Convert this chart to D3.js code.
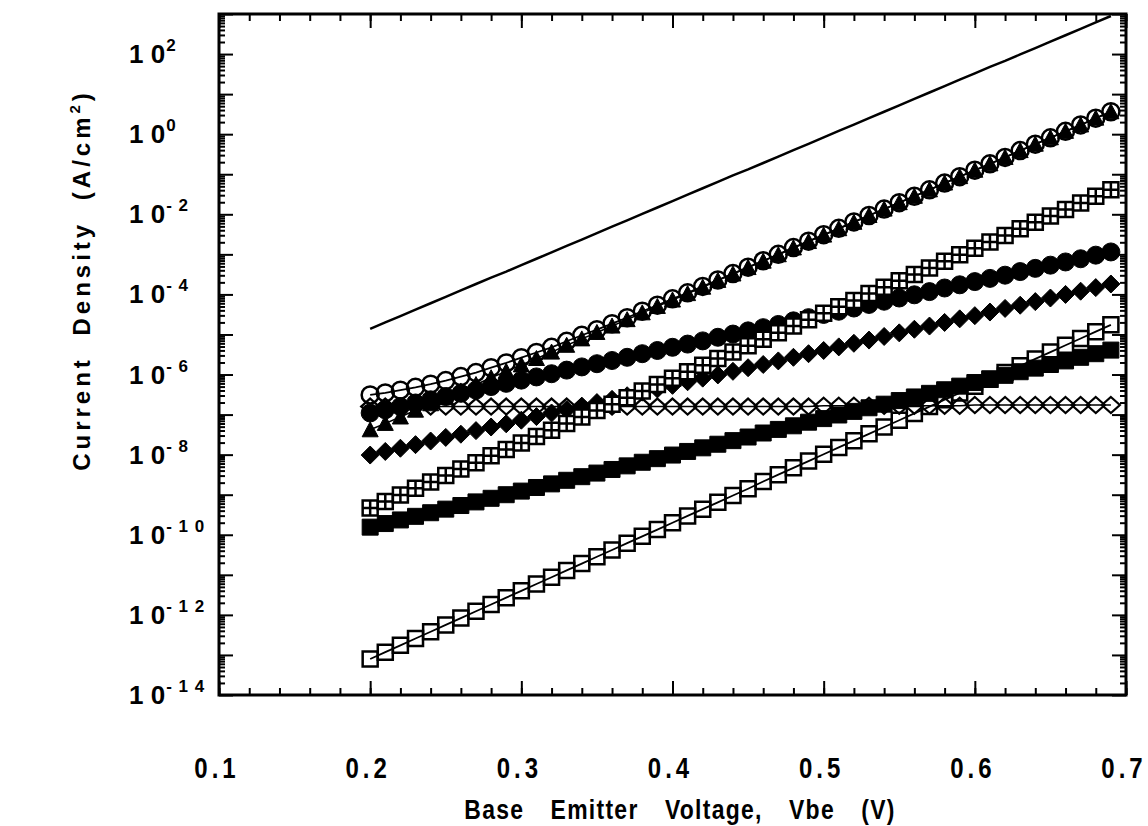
<!DOCTYPE html>
<html>
<head>
<meta charset="utf-8">
<script src="https://cdn.jsdelivr.net/npm/d3@7"></script>
<style>
  body { margin: 0; background: #fff; }
  svg text { fill: #000; }
</style>
</head>
<body>
<div id="chart"></div>
<script>
// Vbe 采样点 (V)
const vbe = [0.20, 0.21, 0.22, 0.23, 0.24, 0.25, 0.26, 0.27, 0.28, 0.29,
             0.30, 0.31, 0.32, 0.33, 0.34, 0.35, 0.36, 0.37, 0.38, 0.39,
             0.40, 0.41, 0.42, 0.43, 0.44, 0.45, 0.46, 0.47, 0.48, 0.49,
             0.50, 0.51, 0.52, 0.53, 0.54, 0.55, 0.56, 0.57, 0.58, 0.59,
             0.60, 0.61, 0.62, 0.63, 0.64, 0.65, 0.66, 0.67, 0.68, 0.69];

// 各曲线的 log10(J)
const expSolid = [-4.86, -4.70, -4.54, -4.38, -4.22, -4.06, -3.90, -3.74, -3.58, -3.43,
                  -3.27, -3.11, -2.95, -2.79, -2.63, -2.47, -2.31, -2.15, -1.99, -1.83,
                  -1.67, -1.51, -1.35, -1.19, -1.03, -0.88, -0.72, -0.56, -0.40, -0.24,
                  -0.08, 0.08, 0.24, 0.40, 0.56, 0.72, 0.88, 1.04, 1.20, 1.36,
                  1.52, 1.68, 1.83, 1.99, 2.15, 2.31, 2.47, 2.63, 2.79, 2.95];

const expOpenCircle = [-6.51, -6.46, -6.39, -6.32, -6.24, -6.15, -6.05, -5.95, -5.83, -5.71,
                       -5.58, -5.45, -5.32, -5.17, -5.02, -4.88, -4.73, -4.58, -4.42, -4.27,
                       -4.11, -3.96, -3.80, -3.64, -3.48, -3.32, -3.16, -3.00, -2.83, -2.67,
                       -2.51, -2.35, -2.19, -2.03, -1.87, -1.71, -1.55, -1.39, -1.22, -1.06,
                       -0.90, -0.74, -0.58, -0.41, -0.25, -0.09, 0.07, 0.23, 0.40, 0.56];

const expTriangle = [-7.38, -7.22, -7.06, -6.89, -6.73, -6.57, -6.41, -6.25, -6.08, -5.92,
                     -5.76, -5.60, -5.44, -5.27, -5.11, -4.95, -4.79, -4.63, -4.46, -4.30,
                     -4.14, -3.98, -3.82, -3.65, -3.49, -3.33, -3.17, -3.01, -2.84, -2.68,
                     -2.52, -2.36, -2.20, -2.03, -1.87, -1.71, -1.55, -1.39, -1.22, -1.06,
                     -0.90, -0.74, -0.58, -0.41, -0.25, -0.09, 0.07, 0.23, 0.40, 0.56];

const expFilledCircle = [-6.96, -6.88, -6.80, -6.71, -6.63, -6.55, -6.47, -6.39, -6.30, -6.22,
                         -6.14, -6.06, -5.98, -5.89, -5.81, -5.73, -5.65, -5.57, -5.48, -5.40,
                         -5.32, -5.24, -5.16, -5.07, -4.99, -4.91, -4.83, -4.75, -4.66, -4.58,
                         -4.50, -4.42, -4.34, -4.25, -4.17, -4.09, -4.01, -3.93, -3.84, -3.76,
                         -3.68, -3.60, -3.52, -3.43, -3.35, -3.27, -3.19, -3.11, -3.02, -2.94];

const expOpenDiamond = [-6.80, -6.80, -6.80, -6.80, -6.80, -6.80, -6.80, -6.80, -6.80, -6.80,
                        -6.80, -6.80, -6.80, -6.80, -6.80, -6.80, -6.80, -6.80, -6.80, -6.80,
                        -6.80, -6.80, -6.80, -6.80, -6.80, -6.80, -6.80, -6.80, -6.80, -6.80,
                        -6.78, -6.78, -6.78, -6.78, -6.78, -6.78, -6.78, -6.78, -6.78, -6.78,
                        -6.76, -6.76, -6.76, -6.76, -6.76, -6.76, -6.76, -6.76, -6.76, -6.76];

const expFilledDiamond = [-8.01, -7.92, -7.84, -7.75, -7.66, -7.57, -7.49, -7.40, -7.31, -7.23,
                          -7.14, -7.05, -6.96, -6.88, -6.79, -6.70, -6.62, -6.53, -6.44, -6.36,
                          -6.27, -6.18, -6.09, -6.01, -5.92, -5.83, -5.75, -5.66, -5.57, -5.48,
                          -5.40, -5.31, -5.22, -5.14, -5.05, -4.96, -4.87, -4.79, -4.70, -4.61,
                          -4.53, -4.44, -4.35, -4.27, -4.18, -4.09, -4.00, -3.92, -3.83, -3.74];

const expCrossSquare = [-9.33, -9.17, -9.01, -8.84, -8.68, -8.52, -8.36, -8.20, -8.03, -7.87,
                        -7.71, -7.55, -7.39, -7.22, -7.06, -6.90, -6.74, -6.58, -6.41, -6.25,
                        -6.09, -5.93, -5.77, -5.60, -5.44, -5.28, -5.12, -4.96, -4.79, -4.63,
                        -4.47, -4.31, -4.15, -3.98, -3.82, -3.66, -3.50, -3.34, -3.17, -3.01,
                        -2.85, -2.69, -2.53, -2.36, -2.20, -2.04, -1.88, -1.72, -1.55, -1.39];

const expFilledSquare = [-9.81, -9.72, -9.63, -9.54, -9.45, -9.36, -9.27, -9.18, -9.09, -9.00,
                         -8.91, -8.82, -8.73, -8.64, -8.55, -8.46, -8.37, -8.28, -8.19, -8.10,
                         -8.01, -7.92, -7.83, -7.74, -7.65, -7.56, -7.46, -7.37, -7.28, -7.19,
                         -7.10, -7.01, -6.92, -6.83, -6.74, -6.65, -6.56, -6.47, -6.38, -6.29,
                         -6.20, -6.11, -6.02, -5.93, -5.84, -5.75, -5.66, -5.57, -5.48, -5.39];

const expOpenSquare = [-13.10, -12.93, -12.76, -12.59, -12.42, -12.25, -12.08, -11.91, -11.74, -11.57,
                       -11.40, -11.23, -11.06, -10.89, -10.72, -10.55, -10.38, -10.21, -10.04, -9.87,
                       -9.70, -9.53, -9.36, -9.19, -9.02, -8.85, -8.67, -8.50, -8.33, -8.16,
                       -7.99, -7.82, -7.65, -7.48, -7.31, -7.14, -6.97, -6.80, -6.63, -6.46,
                       -6.29, -6.12, -5.95, -5.78, -5.61, -5.44, -5.27, -5.10, -4.93, -4.76];

// 刻度
const xTickLabels = [0.1, 0.2, 0.3, 0.4, 0.5, 0.6, 0.7];
const yLabelExps = [2, 0, -2, -4, -6, -8, -10, -12, -14];

// 画布
const W = 1148, H = 826;
const plot = { left: 219, right: 1126, top: 14, bottom: 695 };

const svg = d3.select('#chart')
  .append('svg')
  .attr('width', W)
  .attr('height', H);

const x = d3.scaleLinear().domain([0.1, 0.7]).range([plot.left, plot.right]);
const y = d3.scaleLog().domain([1e-14, 1e3]).range([plot.bottom, plot.top]);

// 刻度线（朝内，四边都有）
const minorX = d3.range(0.1, 0.7001, 0.02).map(v => +v.toFixed(2));
const majorX = xTickLabels;
const majorY = d3.range(-14, 4).map(e => Math.pow(10, e));
const minorY = [];
d3.range(-14, 3).forEach(e => {
  for (let k = 2; k <= 9; k++) minorY.push(k * Math.pow(10, e));
});

function tickGroup(axis, tx, ty, values, size) {
  const g = svg.append('g')
    .attr('transform', `translate(${tx},${ty})`)
    .call(axis.tickValues(values).tickSize(size).tickFormat(''));
  g.select('.domain').remove();
  g.selectAll('.tick line').attr('stroke', '#000').attr('stroke-width', 2);
  return g;
}

tickGroup(d3.axisBottom(x), 0, plot.bottom, minorX, -7);
tickGroup(d3.axisBottom(x), 0, plot.bottom, majorX, -14);
tickGroup(d3.axisTop(x), 0, plot.top, minorX, -7);
tickGroup(d3.axisTop(x), 0, plot.top, majorX, -14);
tickGroup(d3.axisLeft(y), plot.left, 0, minorY, -6);
tickGroup(d3.axisLeft(y), plot.left, 0, majorY, -14);
tickGroup(d3.axisRight(y), plot.right, 0, minorY, -6);
tickGroup(d3.axisRight(y), plot.right, 0, majorY, -14);

// 边框
svg.append('rect')
  .attr('x', plot.left)
  .attr('y', plot.top)
  .attr('width', plot.right - plot.left)
  .attr('height', plot.bottom - plot.top)
  .attr('fill', 'none')
  .attr('stroke', '#000')
  .attr('stroke-width', 3);

// x 轴刻度标签（窄体效果用水平压缩）
svg.append('g')
  .selectAll('text')
  .data(xTickLabels)
  .enter().append('text')
  .attr('transform', d => `translate(${x(d) - 2},778) scale(0.8,1)`)
  .attr('text-anchor', 'middle')
  .attr('font-family', '"Liberation Sans", Arial, sans-serif')
  .attr('font-weight', 'bold')
  .attr('font-size', 30)
  .attr('letter-spacing', 5)
  .text(d => d.toFixed(1));

// y 轴刻度标签 10^n
const yLab = svg.append('g')
  .selectAll('text')
  .data(yLabelExps)
  .enter().append('text')
  .attr('x', 129)
  .attr('y', d => y(Math.pow(10, d)) + 9)
  .attr('text-anchor', 'start')
  .attr('font-family', '"Liberation Sans", Arial, sans-serif')
  .attr('font-weight', 'bold')
  .attr('font-size', 26);
yLab.append('tspan').text('1 0');
yLab.append('tspan')
  .attr('dy', -12)
  .attr('dx', 1)
  .attr('font-size', 17)
  .attr('letter-spacing', 1)
  .text(d => d < 0 ? '- ' + String(-d).split('').join(' ') : String(d));

// 轴标题
svg.append('text')
  .attr('transform', 'translate(680,819) scale(0.85,1)')
  .attr('text-anchor', 'middle')
  .attr('font-family', '"Liberation Sans", Arial, sans-serif')
  .attr('font-weight', 'bold')
  .attr('font-size', 27)
  .attr('letter-spacing', 1.5)
  .attr('word-spacing', 22)
  .text('Base Emitter Voltage, Vbe (V)');

const yTitle = svg.append('text')
  .attr('transform', 'translate(90,280) rotate(-90)')
  .attr('text-anchor', 'middle')
  .attr('font-family', '"Liberation Sans", Arial, sans-serif')
  .attr('font-weight', 'bold')
  .attr('font-size', 24)
  .attr('letter-spacing', 4)
  .attr('word-spacing', 10);
yTitle.append('tspan').text('Current Density (A/cm');
yTitle.append('tspan').attr('dy', -10).attr('font-size', 15).text('2');
yTitle.append('tspan').attr('dy', 10).text(')');

// 系列
const series = [
  { name: 'solid', exps: expSolid, marker: null, lineWidth: 2.5 },
  { name: 'openDiamond', exps: expOpenDiamond, marker: 'openDiamond', lineWidth: 1.5 },
  { name: 'filledDiamond', exps: expFilledDiamond, marker: 'filledDiamond', lineWidth: 1.5 },
  { name: 'filledCircle', exps: expFilledCircle, marker: 'filledCircle', lineWidth: 1.5 },
  { name: 'crossSquare', exps: expCrossSquare, marker: 'crossSquare', lineWidth: 1.5 },
  { name: 'filledSquare', exps: expFilledSquare, marker: 'filledSquare', lineWidth: 1.5 },
  { name: 'openSquare', exps: expOpenSquare, marker: 'openSquare', lineWidth: 1.8 },
  { name: 'openCircle', exps: expOpenCircle, marker: 'openCircle', lineWidth: 1.8 },
  { name: 'triangle', exps: expTriangle, marker: 'triangle', lineWidth: 1.5 }
];

series.forEach(s => {
  s.points = vbe.map((v, i) => ({ v, j: Math.pow(10, s.exps[i]) }));
});

const line = d3.line().x(d => x(d.v)).y(d => y(d.j));

svg.append('g')
  .selectAll('path')
  .data(series)
  .enter().append('path')
  .attr('d', s => line(s.points))
  .attr('fill', 'none')
  .attr('stroke', '#000')
  .attr('stroke-width', s => s.lineWidth);

// 标记形状
const markerPaths = {
  openCircle: 'M8.5,0A8.5,8.5,0,1,1,-8.5,0A8.5,8.5,0,1,1,8.5,0Z',
  filledCircle: 'M9,0A9,9,0,1,1,-9,0A9,9,0,1,1,9,0Z',
  triangle: 'M0,-8L8,7L-8,7Z',
  openSquare: 'M-7.5,-7.5H7.5V7.5H-7.5Z',
  filledSquare: 'M-8,-8H8V8H-8Z',
  crossSquare: 'M-7.5,-7.5H7.5V7.5H-7.5Z M0,-7.5V7.5 M-7.5,0H7.5',
  filledDiamond: 'M0,-9L9,0L0,9L-9,0Z',
  openDiamond: 'M0,-8L9,0L0,8L-9,0Z'
};
const markerStyle = {
  openCircle: { fill: 'none', stroke: '#000', sw: 2.5 },
  filledCircle: { fill: '#000', stroke: '#000', sw: 1 },
  triangle: { fill: '#000', stroke: '#000', sw: 1 },
  openSquare: { fill: 'none', stroke: '#000', sw: 2.5 },
  filledSquare: { fill: '#000', stroke: '#000', sw: 1 },
  crossSquare: { fill: '#fff', stroke: '#000', sw: 2.5 },
  filledDiamond: { fill: '#000', stroke: '#000', sw: 1 },
  openDiamond: { fill: 'none', stroke: '#000', sw: 2.2 }
};

series.filter(s => s.marker).forEach(s => {
  const st = markerStyle[s.marker];
  svg.append('g')
    .attr('class', 'markers-' + s.name)
    .selectAll('path')
    .data(s.points)
    .enter().append('path')
    .attr('transform', d => `translate(${x(d.v)},${y(d.j)})`)
    .attr('d', markerPaths[s.marker])
    .attr('fill', st.fill)
    .attr('stroke', st.stroke)
    .attr('stroke-width', st.sw);
});
</script>
</body>
</html>
